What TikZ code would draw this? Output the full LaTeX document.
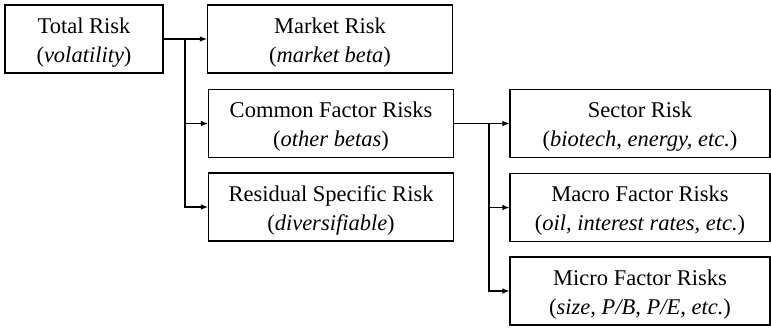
\documentclass[tikz,border=0pt]{standalone}
\usepackage{fontspec}
\setmainfont{Liberation Serif}
\usetikzlibrary{arrows.meta,positioning}

\begin{document}
\begin{tikzpicture}[x=1pt,y=-1pt,
    every node/.style={font=\fontsize{22.5}{29}\selectfont},
    box/.style={draw,line width=1.1pt,align=center,minimum height=68pt,
                inner sep=0pt,text height=51pt,text depth=5pt},
    arr/.style={-{Latex[length=7pt,width=5.5pt]},line width=1.1pt}]
  \useasboundingbox (0,0) rectangle (771,327);

  %% Root
  \node[box,minimum width=158pt] (tot) at (84,39)
        {Total Risk\\(\textit{volatility})};

  %% First level
  \node[box,minimum width=245pt] (mkt) at (330,39)
        {Market Risk\\(\textit{market beta})};
  \node[box,minimum width=245pt] (cfr) at (331,123.5)
        {Common Factor Risks\\(\textit{other betas})};
  \node[box,minimum width=245pt] (res) at (331,207)
        {Residual Specific Risk\\(\textit{diversifiable})};

  %% Second level
  \node[box,minimum width=260pt] (sec) at (640,123.5)
        {Sector Risk\\(\textit{biotech, energy, etc.})};
  \node[box,minimum width=260pt] (mac) at (640,207.5)
        {Macro Factor Risks\\(\textit{oil, interest rates, etc.})};
  \node[box,minimum width=260pt] (mic) at (640,291)
        {Micro Factor Risks\\(\textit{size, P/B, P/E, etc.})};

  %% Connectors
  \coordinate (j1) at (185,39);
  \coordinate (j2) at (489,123.5);
  \draw[arr] (tot) -- (mkt);
  \draw[arr] (j1) |- (cfr);
  \draw[arr] (j1) |- (res);
  \draw[arr] (cfr) -- (sec);
  \draw[arr] (j2) |- (mac);
  \draw[arr] (j2) |- (mic);
\end{tikzpicture}
\end{document}
